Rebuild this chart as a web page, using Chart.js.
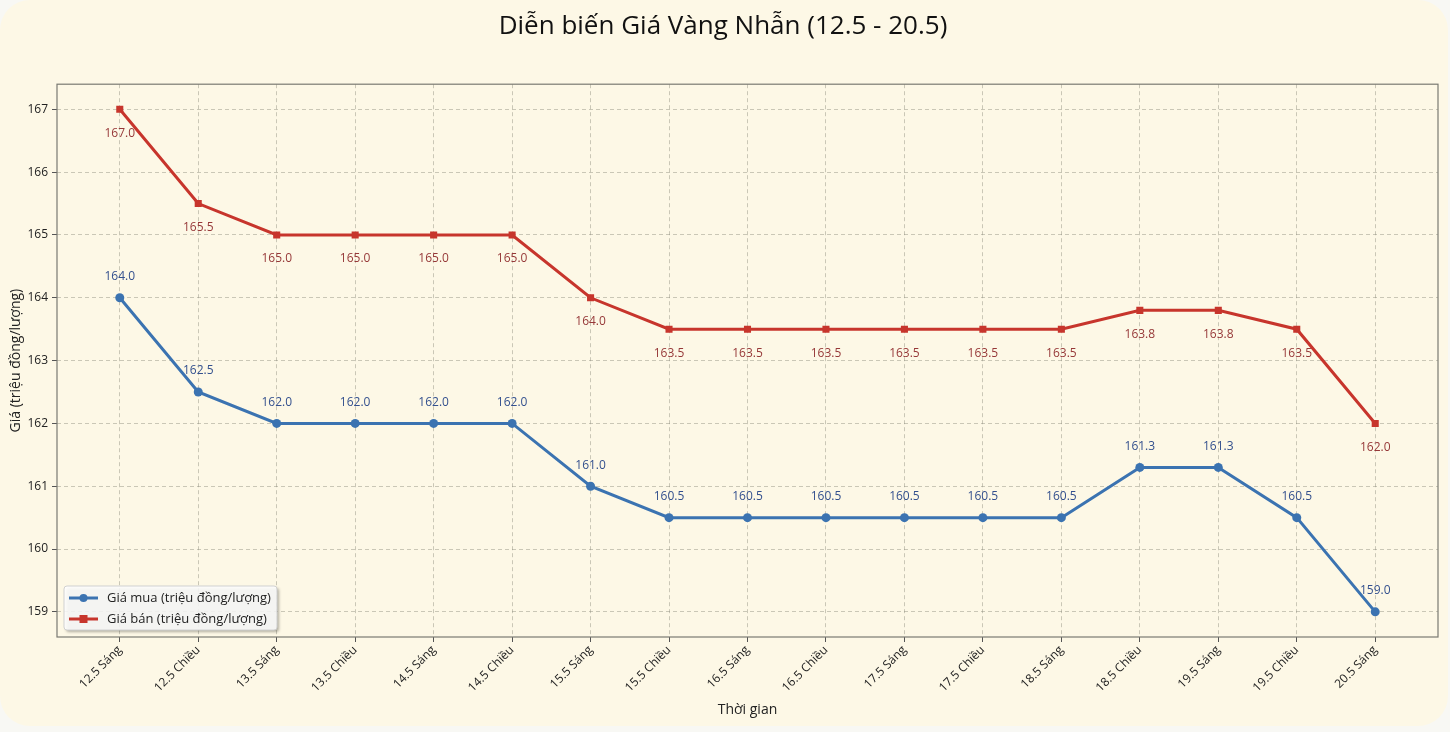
<!DOCTYPE html>
<html>
<head>
<meta charset="utf-8">
<script src="https://cdn.jsdelivr.net/npm/chart.js@4.4.1/dist/chart.umd.min.js"></script>
<style>
  html, body { margin: 0; padding: 0; background: #f8f8f4; }
  #card {
    position: absolute; left: 0; top: 0; width: 1448px; height: 726px;
    background: #fdf8e6; border-radius: 30px; overflow: hidden;
  }
  canvas { position: absolute; left: 0; top: 0; }
</style>
</head>
<body>
<div id="card"><canvas id="chart" width="1450" height="732"></canvas></div>
<script>
// data
const timeLabels = ['12.5 Sáng', '12.5 Chiều', '13.5 Sáng', '13.5 Chiều', '14.5 Sáng', '14.5 Chiều',
  '15.5 Sáng', '15.5 Chiều', '16.5 Sáng', '16.5 Chiều', '17.5 Sáng', '17.5 Chiều',
  '18.5 Sáng', '18.5 Chiều', '19.5 Sáng', '19.5 Chiều', '20.5 Sáng'];
const buyPrice = [164.0, 162.5, 162.0, 162.0, 162.0, 162.0, 161.0, 160.5, 160.5, 160.5, 160.5, 160.5, 160.5, 161.3, 161.3, 160.5, 159.0];
const sellPrice = [167.0, 165.5, 165.0, 165.0, 165.0, 165.0, 164.0, 163.5, 163.5, 163.5, 163.5, 163.5, 163.5, 163.8, 163.8, 163.5, 162.0];
const yTicks = [159, 160, 161, 162, 163, 164, 165, 166, 167];

const FONT = "'Open Sans', 'Noto Sans', sans-serif";
const blue = '#3b73b1';
const red = '#c7352c';
const gridColor = 'rgba(140,140,125,0.45)';

function toPoints(arr) {
  return arr.map((v, i) => ({ x: i, y: v }));
}

// frame around plot area (matplotlib style box)
const frame = {
  id: 'frame',
  beforeDatasetsDraw(chart) {
    const { ctx, chartArea: a } = chart;
    ctx.save();
    ctx.strokeStyle = '#7a7a72';
    ctx.lineWidth = 1.2;
    ctx.strokeRect(a.left, a.top, a.right - a.left, a.bottom - a.top);
    ctx.restore();
  }
};

// value labels on each point
const valueLabels = {
  id: 'valueLabels',
  afterDatasetsDraw(chart) {
    const { ctx } = chart;
    ctx.save();
    ctx.font = '12px ' + FONT;
    ctx.textAlign = 'center';
    ctx.textBaseline = 'middle';
    chart.data.datasets.forEach((ds, di) => {
      const meta = chart.getDatasetMeta(di);
      meta.data.forEach((pt, i) => {
        const v = ds.data[i].y;
        if (di === 0) {
          ctx.fillStyle = '#33508e';
          ctx.fillText(v.toFixed(1), pt.x, pt.y - 21);
        } else {
          ctx.fillStyle = '#963838';
          ctx.fillText(v.toFixed(1), pt.x, pt.y + 24);
        }
      });
    });
    ctx.restore();
  }
};

// legend box in lower-left of the plot
const innerLegend = {
  id: 'innerLegend',
  afterDraw(chart) {
    const { ctx, chartArea: a } = chart;
    const x = a.left + 7, w = 213, h = 44;
    const y = a.bottom - 7 - h;
    ctx.save();
    ctx.shadowColor = 'rgba(0,0,0,0.35)';
    ctx.shadowOffsetX = 2;
    ctx.shadowOffsetY = 2;
    ctx.shadowBlur = 3;
    ctx.fillStyle = 'rgba(255,255,255,0.85)';
    ctx.beginPath();
    ctx.roundRect(x, y, w, h, 3);
    ctx.fill();
    ctx.shadowColor = 'transparent';
    ctx.strokeStyle = '#d0d0d0';
    ctx.lineWidth = 1;
    ctx.stroke();
    ctx.font = '13px ' + FONT;
    ctx.textBaseline = 'middle';
    chart.data.datasets.forEach((ds, i) => {
      const ly = y + 12 + i * 21;
      ctx.strokeStyle = ds.borderColor;
      ctx.lineWidth = 3;
      ctx.beginPath();
      ctx.moveTo(x + 5, ly);
      ctx.lineTo(x + 34, ly);
      ctx.stroke();
      ctx.fillStyle = ds.borderColor;
      if (i === 0) {
        ctx.beginPath();
        ctx.arc(x + 19.5, ly, 4, 0, Math.PI * 2);
        ctx.fill();
      } else {
        ctx.fillRect(x + 15.5, ly - 4, 8, 8);
      }
      ctx.fillStyle = '#222';
      ctx.fillText(ds.label, x + 43, ly);
    });
    ctx.restore();
  }
};

new Chart(document.getElementById('chart'), {
  type: 'line',
  data: {
    datasets: [
      {
        label: 'Giá mua (triệu đồng/lượng)',
        data: toPoints(buyPrice),
        borderColor: blue,
        backgroundColor: blue,
        borderWidth: 3,
        pointStyle: 'circle',
        pointRadius: 4.5,
        pointBorderWidth: 0,
        tension: 0
      },
      {
        label: 'Giá bán (triệu đồng/lượng)',
        data: toPoints(sellPrice),
        borderColor: red,
        backgroundColor: red,
        borderWidth: 3,
        pointStyle: 'rect',
        pointRadius: 5,
        pointBorderWidth: 0,
        tension: 0
      }
    ]
  },
  options: {
    responsive: false,
    animation: false,
    devicePixelRatio: 1,
    layout: { padding: { left: 8, right: 12, top: 0, bottom: 14 } },
    plugins: {
      legend: { display: false },
      tooltip: { enabled: false },
      title: {
        display: true,
        text: 'Diễn biến Giá Vàng Nhẫn (12.5 - 20.5)',
        color: '#111',
        font: { family: FONT, size: 26, weight: 'normal' },
        padding: { top: 11, bottom: 42 }
      }
    },
    scales: {
      x: {
        type: 'linear',
        min: -0.8,
        max: 16.8,
        afterBuildTicks(scale) {
          scale.ticks = timeLabels.map((_, i) => ({ value: i }));
        },
        ticks: {
          includeBounds: false,
          autoSkip: false,
          maxRotation: 45,
          minRotation: 45,
          color: '#222',
          font: { family: FONT, size: 12 },
          padding: 1,
          callback: (v) => timeLabels[v]
        },
        grid: {
          color: gridColor,
          tickBorderDash: [],
          tickColor: '#555',
          tickLength: 5,
          drawOnChartArea: true
        },
        border: { display: false, dash: [4, 3] },
        title: {
          display: true,
          text: 'Thời gian',
          color: '#222',
          font: { family: FONT, size: 14 },
          padding: { top: 0, bottom: 0 }
        },
        afterFit(scale) { scale.height = 81; }
      },
      y: {
        min: 158.6,
        max: 167.4,
        afterBuildTicks(scale) {
          scale.ticks = yTicks.map(v => ({ value: v }));
        },
        ticks: {
          includeBounds: false,
          color: '#222',
          font: { family: FONT, size: 12 },
          padding: 4
        },
        grid: {
          color: gridColor,
          tickBorderDash: [],
          tickColor: '#555',
          tickLength: 5
        },
        border: { display: false, dash: [4, 3] },
        title: {
          display: true,
          text: 'Giá (triệu đồng/lượng)',
          color: '#222',
          font: { family: FONT, size: 14 },
          padding: { top: 0, bottom: 2 }
        },
        afterFit(scale) { scale.width = 49; }
      }
    }
  },
  plugins: [frame, valueLabels, innerLegend]
});
</script>
</body>
</html>
